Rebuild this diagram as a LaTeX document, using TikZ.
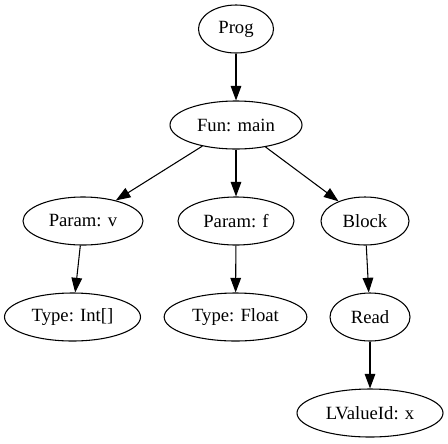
\documentclass[tikz,border=0pt]{standalone}
\usepackage{fontspec}
\setmainfont{Liberation Serif}
\usetikzlibrary{shapes.geometric,arrows.meta}
\begin{document}
\begin{tikzpicture}[x=0.75pt,y=-0.75pt,
  nd/.style={draw,ellipse,line width=0.8pt,inner sep=0pt,minimum height=36pt,font=\fontsize{14pt}{16pt}\selectfont},
  edge/.style={draw,line width=0.8pt,-{Triangle[length=11pt,width=8pt]}}]
\useasboundingbox (0,0) rectangle (448,443);
\node[nd,minimum width=56.25pt] (prog) at (236,29) {Prog};
\node[nd,minimum width=99pt] (fun) at (236,125) {Fun: main};
\node[nd,minimum width=90pt] (pv) at (83,221) {Param: v};
\node[nd,minimum width=87pt] (pf) at (236,221) {Param: f};
\node[nd,minimum width=66pt] (blk) at (365,221) {Block};
\node[nd,minimum width=102pt] (ti) at (72.5,317) {Type: Int[]};
\node[nd,minimum width=107pt] (tf) at (235.5,317) {Type: Float};
\node[nd,minimum width=60pt] (rd) at (370,317) {Read};
\node[nd,minimum width=109.5pt] (lv) at (370,413) {LValueId: x};
\draw[edge] (prog) -- (fun);
\draw[edge] (fun) -- (pv);
\draw[edge] (fun) -- (pf);
\draw[edge] (fun) -- (blk);
\draw[edge] (pv) -- (ti);
\draw[edge] (pf) -- (tf);
\draw[edge] (blk) -- (rd);
\draw[edge] (rd) -- (lv);
\end{tikzpicture}
\end{document}
